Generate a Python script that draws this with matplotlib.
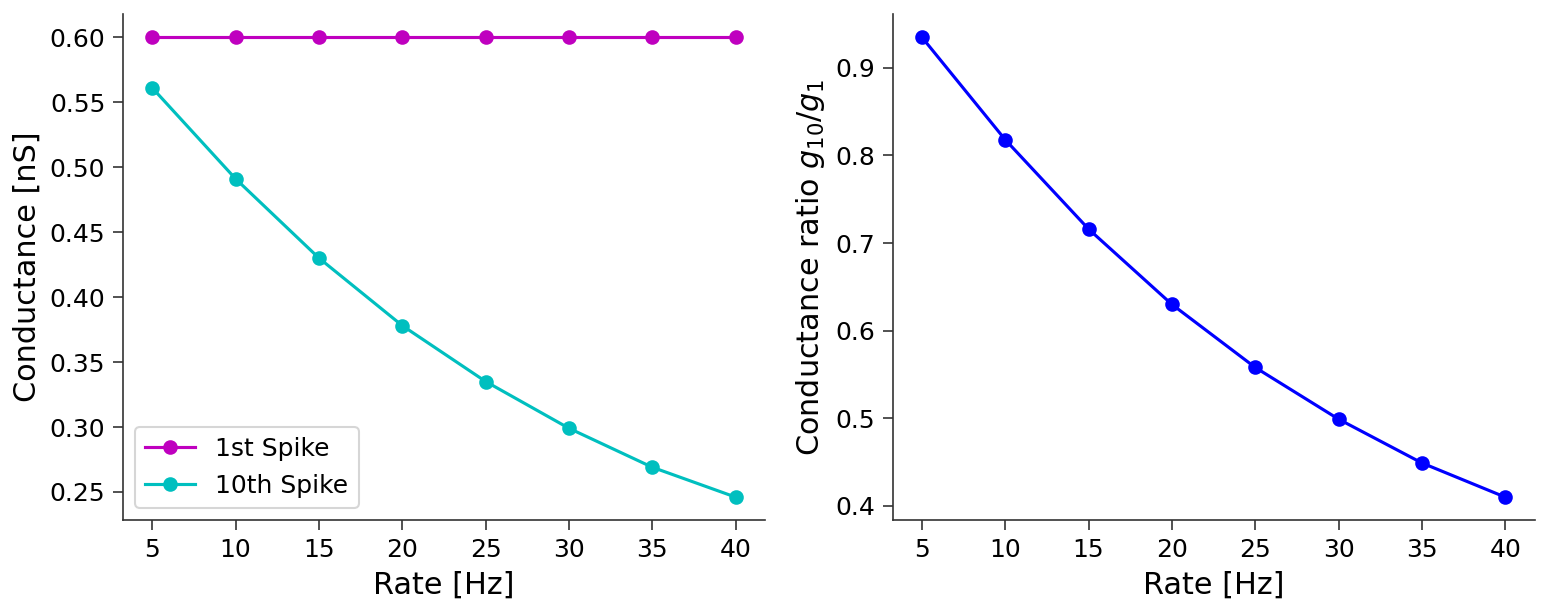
import matplotlib.pyplot as plt
import numpy as np

rate = [5, 10, 15, 20, 25, 30, 35, 40]
g_first = [0.6, 0.6, 0.6, 0.6, 0.6, 0.6, 0.6, 0.6]
g_tenth = [0.561, 0.491, 0.430, 0.378, 0.335, 0.299, 0.269, 0.246]
ratio = [0.935, 0.818, 0.716, 0.630, 0.558, 0.499, 0.449, 0.410]

plt.rcParams['font.family'] = 'DejaVu Sans'

fig = plt.figure(figsize=[10.313, 4.08], dpi=150)
ax1 = fig.add_axes([0.0795, 0.150, 0.415, 0.827])
ax2 = fig.add_axes([0.577, 0.150, 0.415, 0.827])

ax1.plot(rate, g_first, 'o-', color='m', label='1st Spike')
ax1.plot(rate, g_tenth, 'o-', color='c', label='10th Spike')
ax1.set_xlabel('Rate [Hz]', fontsize=14.5)
ax1.set_ylabel('Conductance [nS]', fontsize=14.5)
ax1.legend(loc='lower left', fontsize=12)

ax2.plot(rate, ratio, 'o-', color='b')
ax2.set_xlabel('Rate [Hz]', fontsize=14.5)
ax2.set_ylabel('Conductance ratio $g_{10}/g_1$', fontsize=14.5)

for ax in (ax1, ax2):
    ax.spines['top'].set_visible(False)
    ax.spines['right'].set_visible(False)
    for s in ('left', 'bottom'):
        ax.spines[s].set_color('#333333')
    ax.tick_params(labelsize=12, color='#333333', length=5)
    ax.set_xticks(rate)

fig.savefig('out.png', dpi=150)
